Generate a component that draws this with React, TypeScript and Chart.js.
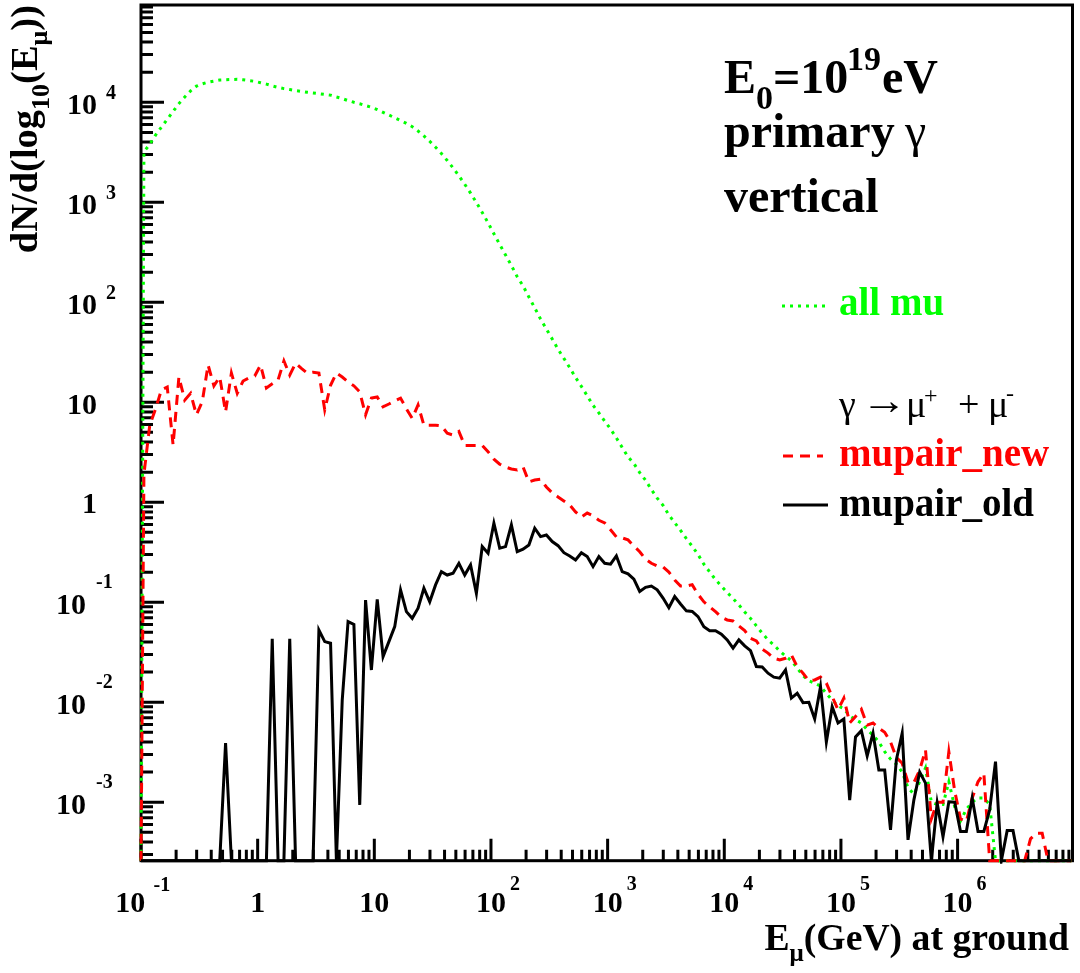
import React, { useEffect, useRef } from "react";
import { Chart, registerables } from "chart.js";

Chart.register(...registerables);

// ---------- axis ranges ----------
const X_MIN = 0.1; // GeV
const X_MAX = 9.66e6; // GeV
const Y_MIN = 2.6e-4;
const Y_MAX = 9.4e4;

// ---------- histogram binning in log10(E/GeV): lower edge, then the 160 bin centres ----------
const LOG_E_EDGE = -1;
const LOG_E_FIRST_CENTRE = -0.975;
const LOG_E_BIN = 0.05;
const N_BINS = 160;
const logE = [
  LOG_E_EDGE,
  ...Array.from({ length: N_BINS }, (_, k) => +(LOG_E_FIRST_CENTRE + LOG_E_BIN * k).toFixed(3)),
];
const energyGeV = logE.map((l) => Math.pow(10, l));

// ---------- series (first entry = range edge, then one value per bin; 0 = empty bin) ----------
const allMu = [
  0,
  3200, 3800, 4700, 5650, 6750, 8100, 9700, 11300, 13000, 14500,
  15300, 15900, 16300, 16700, 16800, 16900, 17000, 16800, 16500, 16200,
  15700, 15200, 14600, 14100, 13700, 13400, 13100, 12850, 12600, 12400,
  12200, 12000, 11800, 11300, 10900, 10400, 10000, 9660, 9270, 8910,
  8470, 7940, 7460, 7000, 6560, 6170, 5710, 5164, 4613, 4074,
  3556, 3069, 2618, 2208, 1841, 1517, 1236, 995, 792, 624,
  485, 379, 297, 233, 180, 146, 113, 88, 68, 54,
  43, 33.9, 27.5, 22.2, 17.7, 14.4, 11.6, 9.33, 7.82, 6.47,
  5.41, 4.4, 3.53, 2.84, 2.44, 1.98, 1.66, 1.34, 1.1, 0.93,
  0.746, 0.625, 0.523, 0.432, 0.363, 0.3, 0.24, 0.201, 0.168, 0.145,
  0.125, 0.109, 0.094, 0.08, 0.069, 0.058, 0.049, 0.042, 0.0374, 0.0325,
  0.029, 0.026, 0.022, 0.0184, 0.0164, 0.0155, 0.0145, 0.0122, 0.0105, 0.0092,
  0.0086, 0.0073, 0.0067, 0.0062, 0.0053, 0.0047, 0.004, 0.0032, 0.0027, 0.0024,
  0.002, 0.0014, 0.0012, 0.0016, 0.0022, 0.001, 0.00095, 0.00095, 0.0016, 0.0009,
  0.00065, 0.00085, 0.001, 0.0011, 0.0011, 0.00095, 0, 0, 0, 0,
  0, 0, 0, 0, 0, 0, 0, 0, 0, 0,
];

const mupairNew = [
  0,
  1.9, 5.9, 8.6, 13.3, 14.2, 3.74, 17.9, 10.5, 12.3, 7.5,
  10.1, 23.6, 14.6, 17.9, 8.0, 19.6, 12.3, 16.3, 17.5, 18.3,
  23.6, 13.9, 15.3, 16.7, 25.9, 18.7, 24.5, 21.8, 19.6, 20,
  19.6, 8.4, 14.8, 19.6, 17.9, 16, 14.6, 12.7, 7.5, 11,
  11.3, 9.0, 9.6, 10.3, 11.0, 8.6, 6.9, 9.4, 5.9, 5.9,
  5.9, 5.8, 4.9, 4.7, 5.1, 3.7, 3.7, 3.7, 3.7, 3.2,
  2.7, 2.4, 2.25, 2.15, 2.1, 2.25, 1.6, 1.67, 1.7, 1.42,
  1.24, 1.13, 1.03, 0.94, 0.8, 0.71, 0.78, 0.73, 0.66, 0.62,
  0.53, 0.45, 0.44, 0.42, 0.365, 0.32, 0.27, 0.245, 0.23, 0.225,
  0.2, 0.167, 0.145, 0.145, 0.15, 0.12, 0.101, 0.09, 0.0805, 0.071,
  0.0665, 0.065, 0.058, 0.052, 0.0436, 0.041, 0.0339, 0.031, 0.0275, 0.0265,
  0.0275, 0.0297, 0.0227, 0.0195, 0.0164, 0.0167, 0.0178, 0.0155, 0.0114, 0.0084,
  0.011, 0.0062, 0.0072, 0.0085, 0.0059, 0.0062, 0.0055, 0.005, 0.004, 0.0028,
  0.00245, 0.00157, 0.00157, 0.0021, 0.00333, 0.00068, 0.001, 0.001, 0.0032, 0.0013,
  0.00068, 0.00064, 0.0011, 0.0016, 0.00195, 0, 0, 0, 0, 0,
  0, 0, 0.00043, 0.00049, 0.00049, 0, 0, 0, 0, 0,
];

const mupairOld = [
  0,
  0, 0, 0, 0, 0, 0, 0, 0, 0, 0,
  0, 0, 0, 0, 0.0039, 0, 0, 0, 0, 0,
  0, 0, 0.043, 0, 0, 0.043, 0, 0, 0, 0,
  0.0528, 0.0404, 0.0389, 0, 0.0105, 0.064, 0.06, 0.00094, 0.105, 0.021,
  0.107, 0.0286, 0.0404, 0.057, 0.133, 0.0805, 0.069, 0.087, 0.138, 0.101,
  0.149, 0.202, 0.187, 0.195, 0.245, 0.187, 0.236, 0.123, 0.36, 0.309,
  0.617, 0.347, 0.36, 0.593, 0.32, 0.339, 0.374, 0.55, 0.453, 0.47,
  0.404, 0.368, 0.313, 0.29, 0.265, 0.313, 0.286, 0.227, 0.286, 0.245,
  0.24, 0.29, 0.202, 0.192, 0.17, 0.128, 0.141, 0.145, 0.133, 0.11,
  0.088, 0.114, 0.096, 0.082, 0.081, 0.0718, 0.057, 0.052, 0.052, 0.048,
  0.042, 0.0347, 0.042, 0.0366, 0.0328, 0.0227, 0.0225, 0.0195, 0.0178, 0.0174,
  0.021, 0.011, 0.0123, 0.0099, 0.01, 0.0068, 0.0143, 0.004, 0.009, 0.0062,
  0.0068, 0.00105, 0.0045, 0.0052, 0.0029, 0.0049, 0.0021, 0.0021, 0.00053, 0.00265,
  0.0049, 0.00042, 0.00105, 0.002, 0.00155, 0, 0.00098, 0.00045, 0.00101, 0.001,
  0.00051, 0.00051, 0.0011, 0.00051, 0.00051, 0.00084, 0.00255, 0, 0.00052, 0.00052,
  0, 0, 0, 0, 0, 0, 0, 0, 0, 0,
];

// ---------- ticks ----------
const xTickExponents = [-1, 0, 1, 2, 3, 4, 5, 6];
const yTickExponents = [-4, -3, -2, -1, 0, 1, 2, 3, 4];
const yLabelExponents = [-3, -2, -1, 0, 1, 2, 3, 4];
const minorMultipliers = [2, 3, 4, 5, 6, 7, 8, 9];

const SERIF = '"Liberation Serif", "Times New Roman", Times, serif';
const fnt = (px: number, bold = true) => `${bold ? "bold " : ""}${px}px ${SERIF}`;

function put(ctx: CanvasRenderingContext2D, s: string, x: number, y: number, px: number,
  align: CanvasTextAlign = "left", color = "#000", bold = true) {
  ctx.font = fnt(px, bold);
  ctx.fillStyle = color;
  ctx.textAlign = align;
  ctx.textBaseline = "alphabetic";
  ctx.fillText(s, x, y);
}

// text squeezed/stretched horizontally to a given advance width
function putWide(ctx: CanvasRenderingContext2D, s: string, x: number, y: number, px: number,
  width: number, color = "#000", bold = false) {
  ctx.font = fnt(px, bold);
  const w = ctx.measureText(s).width;
  ctx.save();
  ctx.translate(x, y);
  ctx.scale(width / w, 1);
  ctx.fillStyle = color;
  ctx.textAlign = "left";
  ctx.textBaseline = "alphabetic";
  ctx.fillText(s, 0, 0);
  ctx.restore();
}

type Run = { t: string; px: number; dy?: number; bold?: boolean };
function runsWidth(ctx: CanvasRenderingContext2D, runs: Run[]) {
  let w = 0;
  for (const r of runs) { ctx.font = fnt(r.px, r.bold ?? true); w += ctx.measureText(r.t).width; }
  return w;
}
function drawRuns(ctx: CanvasRenderingContext2D, runs: Run[], x: number, y: number, color = "#000") {
  let cx = x;
  ctx.textAlign = "left";
  ctx.textBaseline = "alphabetic";
  ctx.fillStyle = color;
  for (const r of runs) {
    ctx.font = fnt(r.px, r.bold ?? true);
    ctx.fillText(r.t, cx, y + (r.dy ?? 0));
    cx += ctx.measureText(r.t).width;
  }
  return cx;
}

const rootStyle = {
  id: "rootStyle",
  beforeDatasetsDraw(chart: any) {
    const { ctx, chartArea: a } = chart;
    const xs = chart.scales.x;
    const ys = chart.scales.y;
    ctx.save();
    ctx.strokeStyle = "#000";
    ctx.lineWidth = 3;
    ctx.lineCap = "butt";
    ctx.strokeRect(a.left, a.top, a.right - a.left, a.bottom - a.top);
    ctx.beginPath();
    for (const e of xTickExponents) {
      const base = Math.pow(10, e);
      const px = xs.getPixelForValue(base);
      ctx.moveTo(px, a.bottom); ctx.lineTo(px, a.bottom - 22);
      for (const m of minorMultipliers) {
        const v = m * base;
        if (v <= X_MIN || v >= X_MAX) continue;
        const p = xs.getPixelForValue(v);
        ctx.moveTo(p, a.bottom); ctx.lineTo(p, a.bottom - 11);
      }
    }
    for (const e of yTickExponents) {
      const base = Math.pow(10, e);
      if (base > Y_MIN && base < Y_MAX) {
        const py = ys.getPixelForValue(base);
        ctx.moveTo(a.left, py); ctx.lineTo(a.left + 23, py);
      }
      for (const m of minorMultipliers) {
        const v = m * base;
        if (v <= Y_MIN || v >= Y_MAX) continue;
        const p = ys.getPixelForValue(v);
        ctx.moveTo(a.left, p); ctx.lineTo(a.left + 12, p);
      }
    }
    ctx.stroke();
    ctx.restore();
  },
  afterDraw(chart: any) {
    const { ctx } = chart;
    const xs = chart.scales.x;
    const ys = chart.scales.y;
    ctx.save();
    // y tick labels
    for (const e of yLabelExponents) {
      const py = ys.getPixelForValue(Math.pow(10, e));
      if (e === 0) put(ctx, "1", 97, py + 11, 30, "right");
      else if (e === 1) put(ctx, "10", 97, py + 12, 30, "right");
      else if (e > 1) {
        put(ctx, "10", 97, py + 12, 30, "right");
        put(ctx, String(e), 106, py - 3, 20, "left");
      } else {
        put(ctx, "10", 86, py + 11.5, 30, "right");
        put(ctx, String(e), 96, py - 14.5, 20, "left");
      }
    }
    // x tick labels
    for (const e of xTickExponents) {
      const px = xs.getPixelForValue(Math.pow(10, e));
      const by = 911.5;
      if (e === 0) put(ctx, "1", px, by, 30, "center");
      else if (e === 1) put(ctx, "10", px, by, 30, "center");
      else if (e > 1) {
        put(ctx, "10", px, by, 30, "center");
        put(ctx, String(e), px + 19, 890, 20, "left");
      } else {
        put(ctx, "10", px - 10.7, by, 30, "center");
        put(ctx, String(e), px + 12.5, 890.5, 20, "left");
      }
    }
    // x title
    const xt: Run[] = [
      { t: "E", px: 37.7 },
      { t: "\u03bc", px: 25, dy: 11 },
      { t: "(GeV) at ground", px: 37.7 },
    ];
    drawRuns(ctx, xt, 1069 - runsWidth(ctx, xt), 950);
    // y title (rotated)
    const yt: Run[] = [
      { t: "dN/d(log", px: 38.5 },
      { t: "10", px: 26, dy: 12 },
      { t: "(E", px: 38.5 },
      { t: "\u03bc", px: 26, dy: 10 },
      { t: "))", px: 38.5 },
    ];
    const yw = runsWidth(ctx, yt);
    ctx.save();
    ctx.translate(37, 5);
    ctx.rotate(-Math.PI / 2);
    drawRuns(ctx, yt, -yw, 0);
    ctx.restore();

    // header text
    put(ctx, "E", 724, 93, 48);
    put(ctx, "0", 756, 109, 34);
    put(ctx, "=10", 773, 93, 48);
    put(ctx, "19", 847, 70, 34);
    put(ctx, "eV", 882, 93, 48);
    put(ctx, "primary", 724, 147, 48);
    put(ctx, "\u03b3", 905, 147, 48, "left", "#000", false);
    put(ctx, "vertical", 724, 212, 48);

    // legend
    ctx.lineWidth = 3;
    ctx.lineCap = "butt";
    ctx.strokeStyle = "#00ff00";
    ctx.setLineDash([3, 5]);
    ctx.beginPath(); ctx.moveTo(782, 306); ctx.lineTo(825, 306); ctx.stroke();
    ctx.strokeStyle = "#ff0000";
    ctx.setLineDash([10, 7]);
    ctx.beginPath(); ctx.moveTo(783, 456); ctx.lineTo(823, 456); ctx.stroke();
    ctx.strokeStyle = "#000";
    ctx.setLineDash([]);
    ctx.beginPath(); ctx.moveTo(783, 505); ctx.lineTo(828, 505); ctx.stroke();

    put(ctx, "all mu", 839, 315, 39, "left", "#00ff00");
    put(ctx, "\u03b3", 839, 417, 38, "left", "#000", false);
    putWide(ctx, "\u2192", 861, 414, 40, 46, "#000", false);
    put(ctx, "\u03bc", 906, 417, 38, "left", "#000", false);
    put(ctx, "+", 924, 403, 24, "left", "#000", false);
    put(ctx, "+", 958, 417, 38, "left", "#000", false);
    put(ctx, "\u03bc", 988, 417, 38, "left", "#000", false);
    put(ctx, "-", 1006, 401, 24, "left", "#000", false);
    put(ctx, "mupair_new", 839, 466, 39, "left", "#ff0000");
    put(ctx, "mupair_old", 839, 516, 39, "left", "#000");
    ctx.restore();
  },
};

export default function App() {
  const ref = useRef<HTMLCanvasElement | null>(null);
  useEffect(() => {
    const canvas = ref.current;
    if (!canvas) return;
    const pts = (vals: number[]) => vals.map((v, i) => ({ x: energyGeV[i], y: v > 0 ? v : Y_MIN }));
    const common = { pointRadius: 0, borderWidth: 3, fill: false, tension: 0, clip: 3, borderCapStyle: "butt" as const, borderJoinStyle: "miter" as const };
    const chart = new Chart(canvas, {
      type: "line",
      data: {
        datasets: [
          { label: "mupair_old", data: pts(mupairOld), borderColor: "#000000", ...common },
          { label: "mupair_new", data: pts(mupairNew), borderColor: "#ff0000", borderDash: [10, 7], ...common },
          { label: "all mu", data: pts(allMu), borderColor: "#00ff00", borderDash: [3, 5], ...common },
        ],
      },
      options: {
        responsive: false,
        animation: false,
        devicePixelRatio: 1,
        events: [],
        layout: { padding: { left: 141, right: 7.5, top: 5, bottom: 112.3 } },
        plugins: { legend: { display: false }, tooltip: { enabled: false }, title: { display: false } },
        scales: {
          x: { type: "logarithmic", min: X_MIN, max: X_MAX, display: false },
          y: { type: "logarithmic", min: Y_MIN, max: Y_MAX, display: false },
        },
      },
      plugins: [rootStyle as any],
    });
    return () => chart.destroy();
  }, []);
  return (
    <div style={{ position: "absolute", left: 0, top: 0, width: 1080, height: 973, background: "#fff" }}>
      <canvas ref={ref} width={1080} height={973} style={{ display: "block", width: 1080, height: 973 }} />
    </div>
  );
}
